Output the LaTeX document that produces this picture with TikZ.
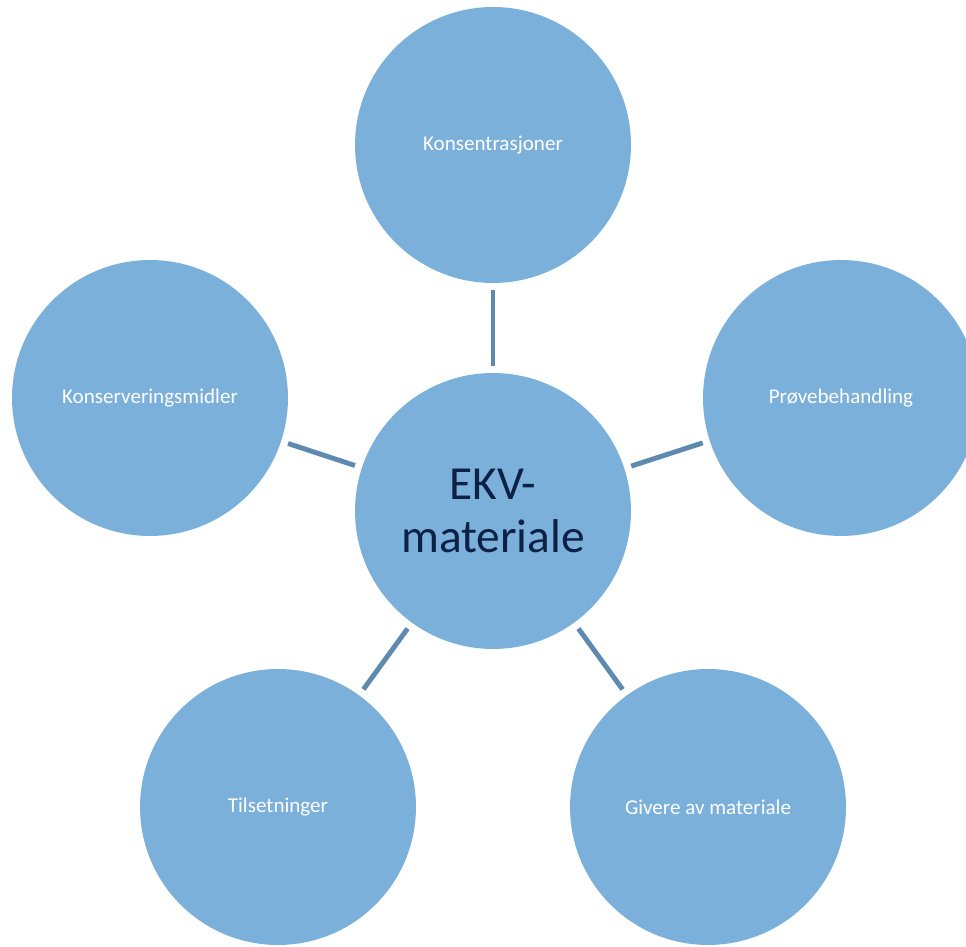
\documentclass[tikz,border=0pt]{standalone}
\usepackage{fontspec}
\setmainfont{Carlito}
\usepackage{tikz}
\definecolor{bubble}{HTML}{7BB0DA}
\definecolor{spoke}{HTML}{5E8AAF}
\definecolor{hubtext}{HTML}{0D2147}

\begin{document}
\begin{tikzpicture}[x=0.02cm, y=0.02cm,
    topic/.style={circle,fill=bubble,minimum size=5.52cm,inner sep=0pt,
      text=white,font=\fontsize{12}{14}\selectfont,align=center},
    hub/.style={topic,text=hubtext,font=\fontsize{27}{30}\selectfont},
    link/.style={draw=spoke,line width=2.8pt,shorten >=4pt,shorten <=4pt}]
    \useasboundingbox (0,0) rectangle (966,946);
    \node[hub] at (493,435) (ekv) {EKV-\\materiale};
    \node[topic] at (493,801) (kons) {Konsentrasjoner};
    \node[topic] at (841,548) (prove) {Prøvebehandling};
    \node[topic] at (708,139) (givere) {Givere av materiale};
    \node[topic] at (278,139) (tils) {Tilsetninger};
    \node[topic] at (150,548) (konserv) {Konserveringsmidler};
    \foreach \t in {kons,prove,givere,tils,konserv}
      \draw [link] (ekv) -- (\t);
  \end{tikzpicture}
\end{document}
